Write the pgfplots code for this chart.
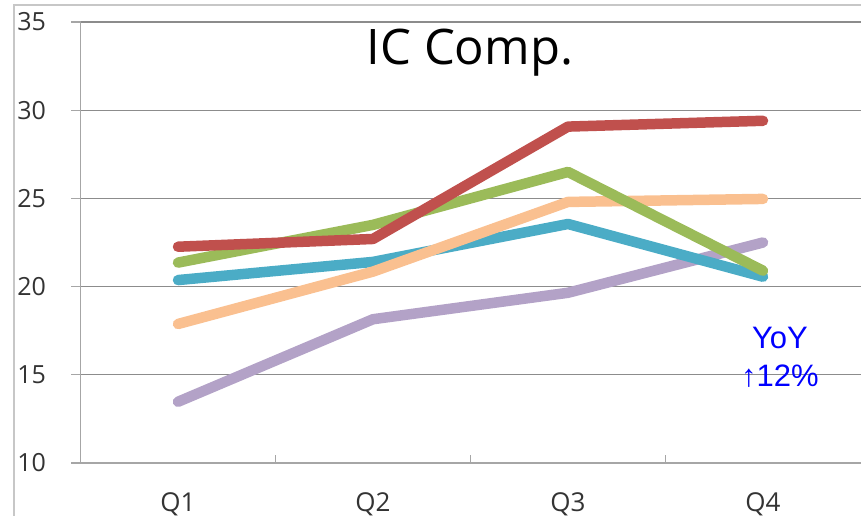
\documentclass[border=0pt]{standalone}
\usepackage{pgfplots}
\pgfplotsset{compat=1.18}
\usepackage{fontspec}
\setmainfont{Open Sans}
\newfontfamily\arialfont{Liberation Sans}
\definecolor{cred}{HTML}{C0504D}
\definecolor{cgreen}{HTML}{9BBB59}
\definecolor{cblue}{HTML}{4BACC6}
\definecolor{corange}{HTML}{FAC090}
\definecolor{cpurple}{HTML}{B3A2C7}
\definecolor{gridc}{HTML}{8C8C8C}
\definecolor{axisc}{HTML}{A6A6A6}
\begin{document}
\begin{tikzpicture}[x=1pt,y=1pt]
\useasboundingbox (0,0) rectangle (861,516);
\draw[color=black!22, line width=1.2pt] (14,-5) -- (14,511) -- (870,511);
\begin{axis}[
  at={(80.5pt,53pt)}, anchor=south west,
  scale only axis, width=780pt, height=441pt,
  xmin=-0.5, xmax=3.5, ymin=10, ymax=35,
  axis x line*=bottom, axis y line*=left,
  axis line style={draw=axisc, line width=1.3pt},
  ytick={10,15,20,25,30,35},
  ymajorgrids, grid style={draw=gridc, line width=1.2pt},
  ytick style={draw=axisc, line width=1.3pt},
  tick align=outside, major tick length=9pt,
  xtick={0,1,2,3}, xticklabels={Q1,Q2,Q3,Q4},
  xtick style={draw=none},
  extra x ticks={0.5,1.5,2.5}, extra x tick labels={},
  extra x tick style={tick align=inside, major tick length=8pt, xtick style={draw=axisc, line width=1.3pt}},
  /pgf/number format/assume math mode=true,
  tick label style={text=black!80},
  yticklabel style={font=\fontsize{25}{30}\selectfont, anchor=east, xshift=-22pt},
  xticklabel style={font=\fontsize{26}{30}\selectfont, anchor=center, yshift=-32pt},
  clip=false,
]
\addplot[cpurple, line width=10.5pt, line cap=round, line join=round] coordinates {(0,13.47) (1,18.15) (2,19.65) (3,22.5)};
\addplot[cblue, line width=10.5pt, line cap=round, line join=round] coordinates {(0,20.37) (1,21.4) (2,23.55) (3,20.56)};
\addplot[corange, line width=10.5pt, line cap=round, line join=round] coordinates {(0,17.88) (1,20.85) (2,24.8) (3,24.97)};
\addplot[cgreen, line width=10.5pt, line cap=round, line join=round] coordinates {(0,21.36) (1,23.5) (2,26.5) (3,20.9)};
\addplot[cred, line width=10.5pt, line cap=round, line join=round] coordinates {(0,22.26) (1,22.7) (2,29.07) (3,29.4)};
\end{axis}
\node[font=\fontsize{49}{55}\selectfont, anchor=center] at (470,463) {IC Comp.};
\node[font=\arialfont\fontsize{31}{38}\selectfont, text=blue, align=center, anchor=center] at (780,159) {YoY\\↑12\%};
\end{tikzpicture}
\end{document}
